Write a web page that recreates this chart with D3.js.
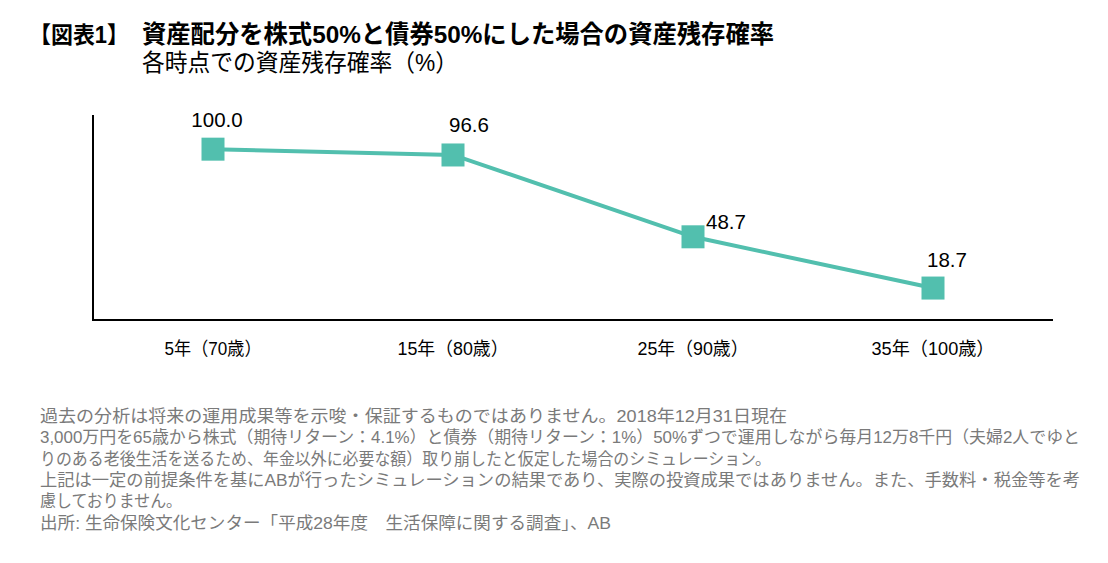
<!DOCTYPE html>
<html>
<head>
<meta charset="utf-8">
<script src="https://cdn.jsdelivr.net/npm/d3@7"></script>
<style>
  body { margin: 0; background: #fff; }
  text { font-family: "Liberation Sans", Arial, "Noto Sans CJK JP", sans-serif; }
</style>
</head>
<body>
<svg id="chart"></svg>
<script>
let width = 1108, height = 563

// data
let categories = ["5年（70歳）", "15年（80歳）", "25年（90歳）", "35年（100歳）"]
let values = [100.0, 96.6, 48.7, 18.7]
let valueLabels = ["100.0", "96.6", "48.7", "18.7"]

let titleTag = "【図表1】"
let title = "資産配分を株式50%と債券50%にした場合の資産残存確率"
let subtitle = "各時点での資産残存確率（%）"
let notes = [
    "過去の分析は将来の運用成果等を示唆・保証するものではありません。2018年12月31日現在",
    "3,000万円を65歳から株式（期待リターン：4.1%）と債券（期待リターン：1%）50%ずつで運用しながら毎月12万8千円（夫婦2人でゆと",
    "りのある老後生活を送るため、年金以外に必要な額）取り崩したと仮定した場合のシミュレーション。",
    "上記は一定の前提条件を基にABが行ったシミュレーションの結果であり、実際の投資成果ではありません。また、手数料・税金等を考",
    "慮しておりません。",
    "出所: 生命保険文化センター「平成28年度　生活保障に関する調査」、AB"
]

let color = "#52bfae"

let svg = d3.select("#chart").attr("width", width).attr("height", height)

let x = d3.scaleBand().domain(categories).range([93, 1053])
let y = d3.scaleLinear().domain([0, 120]).range([320, 115])

// titles
svg.append("text").attr("x", 29).attr("y", 43)
    .attr("font-size", 23).attr("font-weight", "bold")
    .attr("textLength", 100).attr("lengthAdjust", "spacingAndGlyphs").text(titleTag)
svg.append("text").attr("x", 142).attr("y", 43)
    .attr("font-size", 24.5).attr("font-weight", "bold")
    .attr("textLength", 632).attr("lengthAdjust", "spacingAndGlyphs").text(title)
svg.append("text").attr("x", 142).attr("y", 71)
    .attr("font-size", 24).attr("textLength", 316).attr("lengthAdjust", "spacingAndGlyphs")
    .text(subtitle)

// axes
svg.append("line").attr("x1", 93).attr("x2", 93).attr("y1", y.range()[1]).attr("y2", y(0))
    .attr("stroke", "#000").attr("stroke-width", 2)
svg.append("line").attr("x1", x.range()[0] - 1).attr("x2", x.range()[1]).attr("y1", y(0)).attr("y2", y(0))
    .attr("stroke", "#000").attr("stroke-width", 2)

svg.selectAll(".tick-label")
    .data(categories)
    .enter()
    .append("text")
    .attr("class", "tick-label")
    .attr("x", d => x(d) + x.bandwidth() / 2)
    .attr("y", 355)
    .attr("text-anchor", "middle")
    .attr("font-size", 18.5)
    .attr("textLength", (d, i) => [97, 111, 111, 123][i])
    .attr("lengthAdjust", "spacingAndGlyphs")
    .text(d => d)

// line + markers
let cx = (d, i) => x(categories[i]) + x.bandwidth() / 2

let line = d3.line().x(cx).y(d => y(d))

svg.append("path")
    .datum(values)
    .attr("d", line)
    .attr("fill", "none")
    .attr("stroke", color)
    .attr("stroke-width", 4)

let size = 23
svg.selectAll(".marker")
    .data(values)
    .enter()
    .append("rect")
    .attr("class", "marker")
    .attr("x", (d, i) => cx(d, i) - size / 2)
    .attr("y", d => y(d) - size / 2)
    .attr("width", size)
    .attr("height", size)
    .attr("fill", color)

// label placement relative to each point (dx, dy, anchor)
let labelPos = [[4, -22, "middle"], [16, -23, "middle"], [13, -8, "start"], [14, -21, "middle"]]

svg.selectAll(".value-label")
    .data(values)
    .enter()
    .append("text")
    .attr("class", "value-label")
    .attr("x", (d, i) => cx(d, i) + labelPos[i][0])
    .attr("y", (d, i) => y(d) + labelPos[i][1])
    .attr("text-anchor", (d, i) => labelPos[i][2])
    .attr("font-size", 20.5)
    .text((d, i) => valueLabels[i])

// footnotes
let noteEnds = [787, 1080, 771, 1080, 182, 611]
svg.selectAll(".note")
    .data(notes)
    .enter()
    .append("text")
    .attr("class", "note")
    .attr("x", 40)
    .attr("y", (d, i) => 422 + i * 21.3)
    .attr("font-size", 16.5)
    .attr("fill", "#7a7a7a")
    .attr("textLength", (d, i) => noteEnds[i] - 40)
    .attr("lengthAdjust", "spacingAndGlyphs")
    .text(d => d)
</script>
</body>
</html>
